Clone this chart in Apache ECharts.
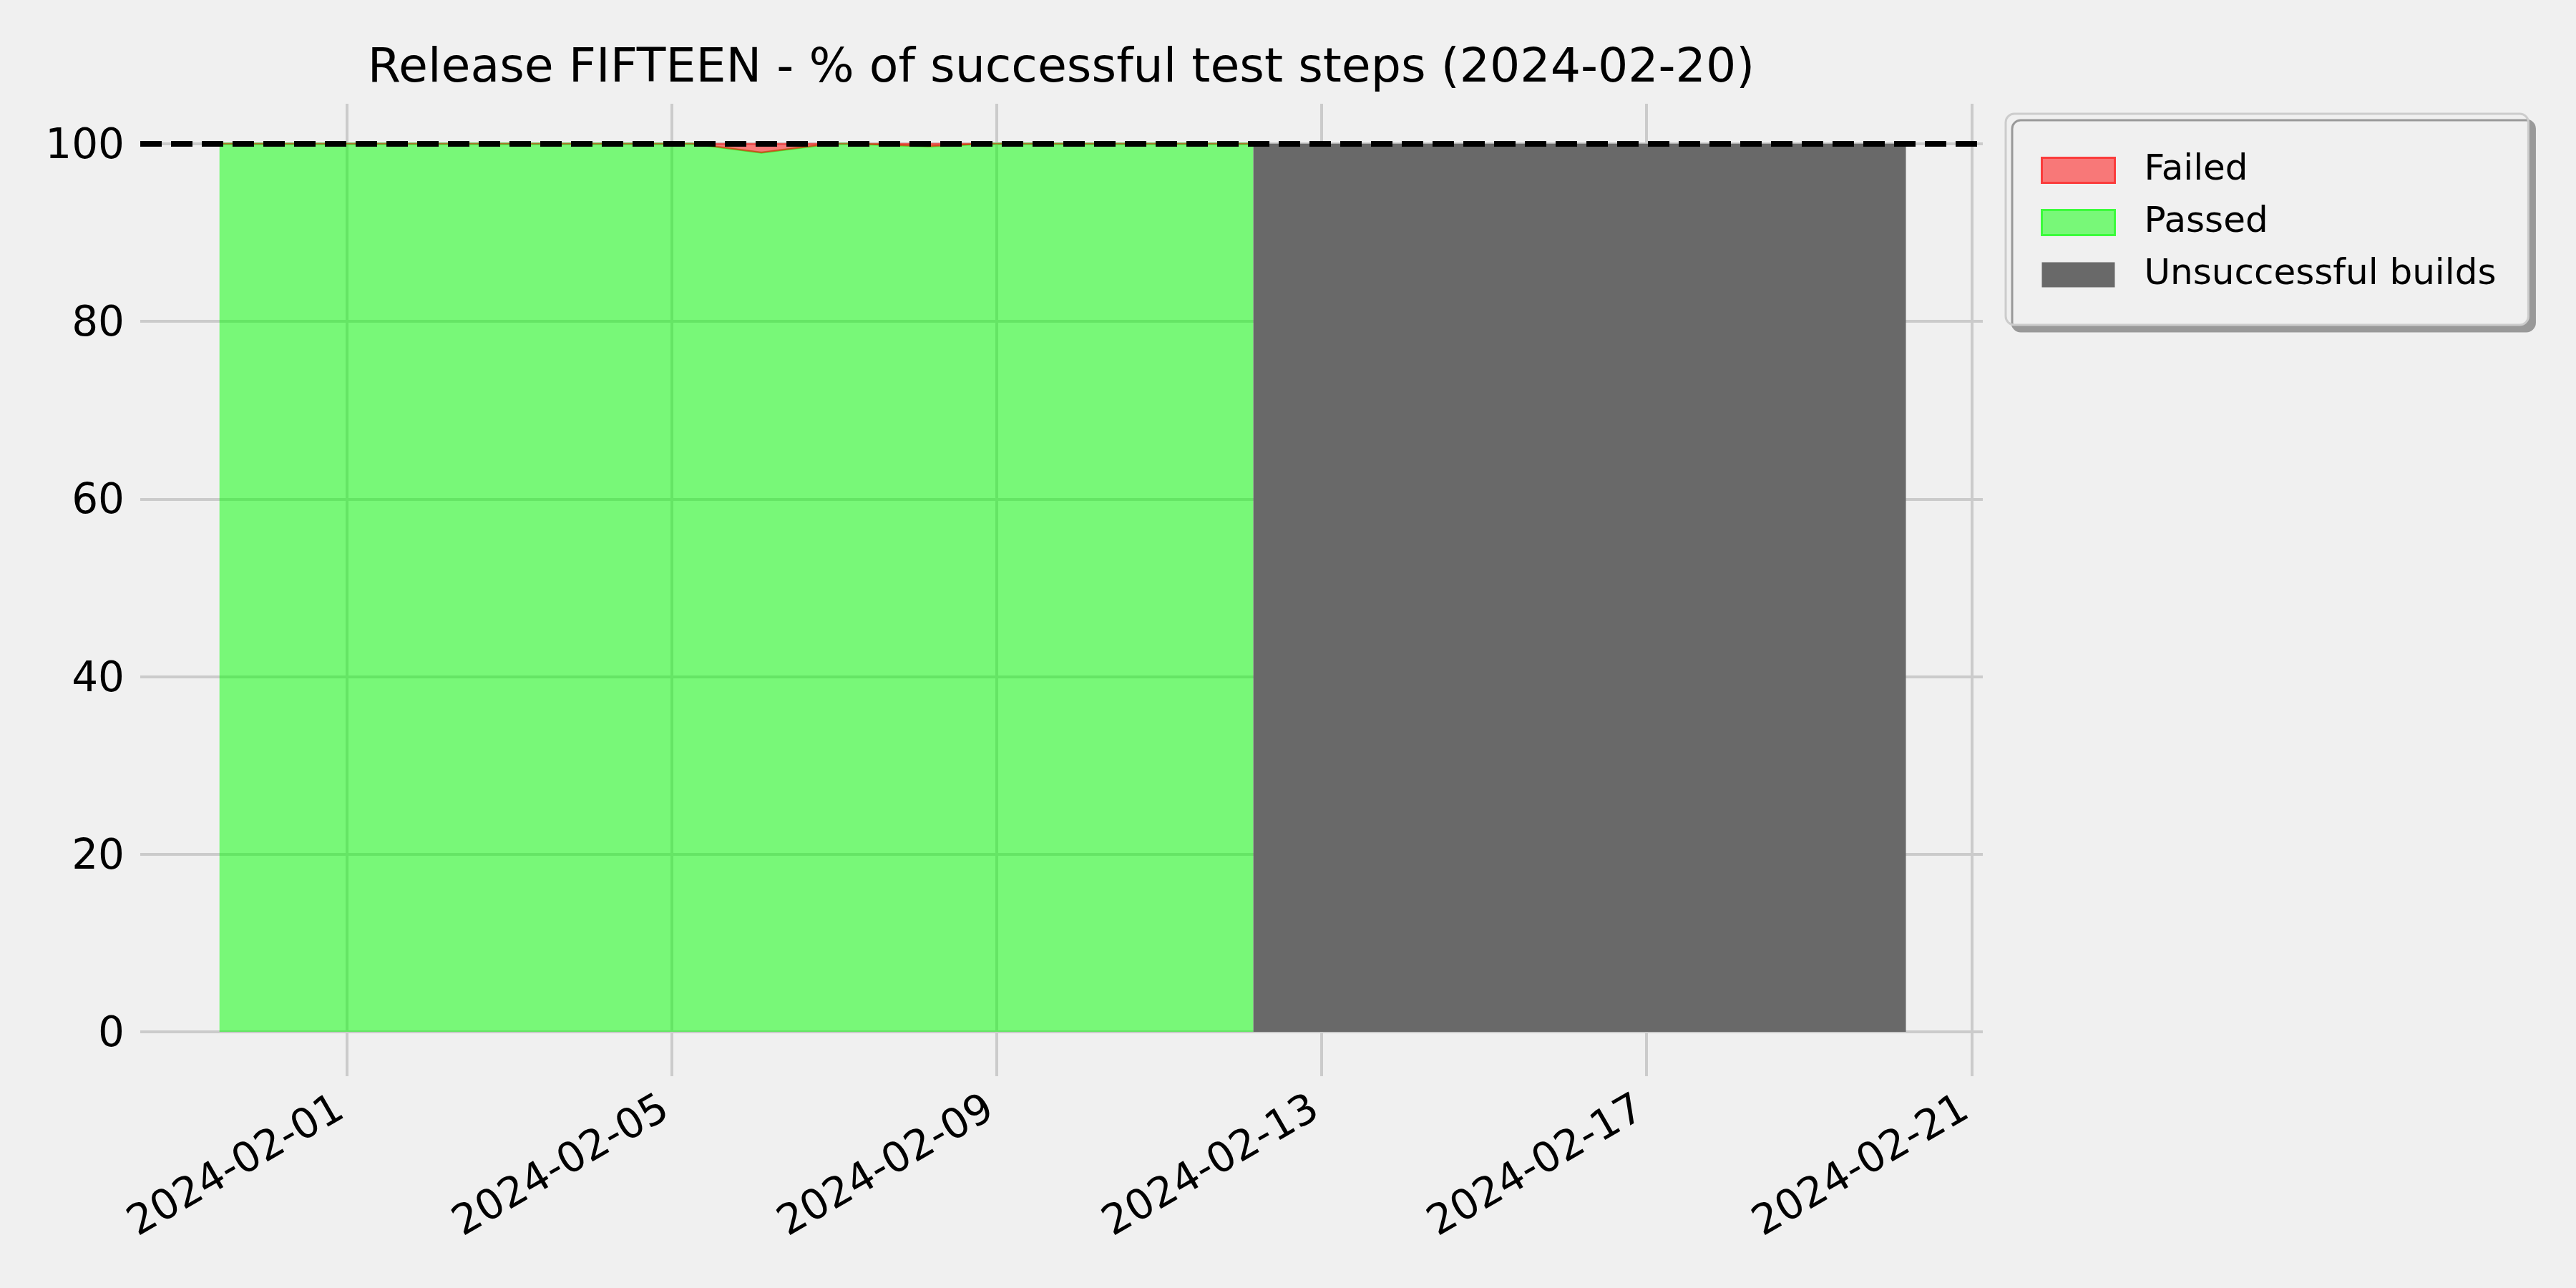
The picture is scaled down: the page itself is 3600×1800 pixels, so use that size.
<!DOCTYPE html>
<html>
<head>
<meta charset="utf-8">
<script src="https://cdn.jsdelivr.net/npm/echarts@6/dist/echarts.min.js"></script>
<style>
html,body{margin:0;padding:0;background:#f0f0f0;}
#chart{width:3600px;height:1800px;}
</style>
</head>
<body>
<div id="chart"></div>
<script>
// ---- data ----
const titleText = 'Release FIFTEEN - % of successful test steps (2024-02-20)';
const buildTimes = [
  '2024-01-30T10:25:00Z','2024-01-31T03:00:00Z','2024-02-01T03:00:00Z','2024-02-02T03:00:00Z',
  '2024-02-03T03:00:00Z','2024-02-04T03:00:00Z','2024-02-05T06:00:00Z','2024-02-06T02:30:00Z',
  '2024-02-06T23:30:00Z','2024-02-07T04:50:00Z','2024-02-08T03:50:00Z','2024-02-08T21:30:00Z',
  '2024-02-10T03:00:00Z','2024-02-11T03:00:00Z','2024-02-12T03:50:00Z'
];
const passedPct = [100,100,100,100,100,100,100,99.0,100,100,99.7,100,100,100,100];
const failedPct = [0,0,0,0,0,0,0,1.0,0,0,0.3,0,0,0,0];
const unsuccessfulTimes = ['2024-02-12T03:50:00Z','2024-02-20T04:36:00Z'];
const unsuccessfulPct = [100,100];
const xTickDates = ['2024-02-01','2024-02-05','2024-02-09','2024-02-13','2024-02-17','2024-02-21'];
const yTickValues = [0,20,40,60,80,100];
const targetLevel = 100;
const seriesNames = ['Failed','Passed','Unsuccessful builds'];

// ---- build ----
const ms = s => Date.parse(s);
const xTicks = xTickDates.map(d => ms(d + 'T00:00:00Z'));
const passedData = buildTimes.map((t,i) => [ms(t), passedPct[i]]);
const unsuccData = unsuccessfulTimes.map((t,i) => [ms(t), unsuccessfulPct[i]]);
const fmtDate = v => new Date(+v).toISOString().slice(0,10);
const FONT = 'DejaVu Sans';

// failed band: stacked on top of passed, drawn through the axes' own scales
function renderFailedBand(params, api) {
  if (params.dataIndex !== 0) return null;
  const top = buildTimes.map((t,i) => api.coord([ms(t), passedPct[i] + failedPct[i]]));
  const base = buildTimes.map((t,i) => api.coord([ms(t), passedPct[i]])).reverse();
  return {
    type: 'polygon',
    shape: {points: top.concat(base)},
    style: {fill: 'rgba(255,0,0,0.5)', stroke: 'rgba(255,0,0,0.5)', lineWidth: 2}
  };
}

const chart = echarts.init(document.getElementById('chart'), null, {renderer:'canvas'});
chart.setOption({
  backgroundColor: '#f0f0f0',
  animation: false,
  title: {
    text: titleText,
    left: 1483, top: 63, padding: 0,
    textAlign: 'center',
    textStyle: {fontFamily: FONT, fontSize: 66.5, fontWeight: 'normal', color: '#000'}
  },
  grid: {left: 196, right: 829, top: 145, bottom: 296, containLabel: false},
  legend: {
    orient: 'vertical',
    left: 2803, top: 159,
    padding: [54, 45, 45, 49],
    itemWidth: 102, itemHeight: 35, itemGap: 23,
    icon: 'rect',
    backgroundColor: '#f0f0f0',
    borderColor: '#cccccc', borderWidth: 3, borderRadius: 12,
    shadowColor: '#999999', shadowBlur: 0, shadowOffsetX: 9, shadowOffsetY: 9,
    textStyle: {fontFamily: FONT, fontSize: 50, lineHeight: 50, color: '#000', padding: [0,0,0,36]},
    data: [
      {name: seriesNames[0], itemStyle: {color: '#f87878', borderColor: '#fb3c3c', borderWidth: 3}},
      {name: seriesNames[1], itemStyle: {color: '#78f878', borderColor: '#3cfb3c', borderWidth: 3}},
      {name: seriesNames[2], itemStyle: {color: '#696969', borderWidth: 0}}
    ]
  },
  xAxis: {
    type: 'value',
    min: ms('2024-01-29T11:01:00Z'),
    max: ms('2024-02-21T03:19:00Z'),
    axisLine: {show: false},
    axisTick: {show: false, customValues: xTicks},
    splitLine: {show: true, lineStyle: {color: '#cbcbcb', width: 4}},
    axisLabel: {
      customValues: xTicks,
      formatter: fmtDate,
      rotate: 30, margin: 38, padding: [0, 9, 0, 0],
      fontFamily: FONT, fontSize: 58, color: '#000'
    }
  },
  yAxis: {
    type: 'value',
    min: -5, max: 104.5,
    axisLine: {show: false},
    axisTick: {show: false, customValues: yTickValues},
    splitLine: {show: true, lineStyle: {color: '#cbcbcb', width: 4}},
    axisLabel: {
      customValues: yTickValues,
      margin: 22, verticalAlign: 'top', lineHeight: 10,
      fontFamily: FONT, fontSize: 58, color: '#000'
    }
  },
  series: [
    {
      name: seriesNames[1], type: 'line', data: passedData,
      symbol: 'none', z: 2,
      lineStyle: {color: 'rgba(0,255,0,0.5)', width: 3},
      itemStyle: {color: '#78f878'},
      areaStyle: {color: 'rgba(0,255,0,0.5)', opacity: 1}
    },
    {
      name: seriesNames[0], type: 'custom',
      data: [[ms(buildTimes[0]), passedPct[0] + failedPct[0]]],
      encode: {x: 0, y: 1},
      renderItem: renderFailedBand,
      itemStyle: {color: '#f87878'},
      silent: true, z: 3
    },
    {
      name: seriesNames[2], type: 'line', data: unsuccData,
      symbol: 'none', z: 3,
      lineStyle: {width: 0, color: '#696969'},
      itemStyle: {color: '#696969'},
      areaStyle: {color: '#696969', opacity: 1},
      markLine: {
        silent: true, symbol: 'none', label: {show: false},
        lineStyle: {color: '#000', type: [30, 13], width: 8},
        data: [{yAxis: targetLevel}]
      }
    }
  ]
});
</script>
</body>
</html>
